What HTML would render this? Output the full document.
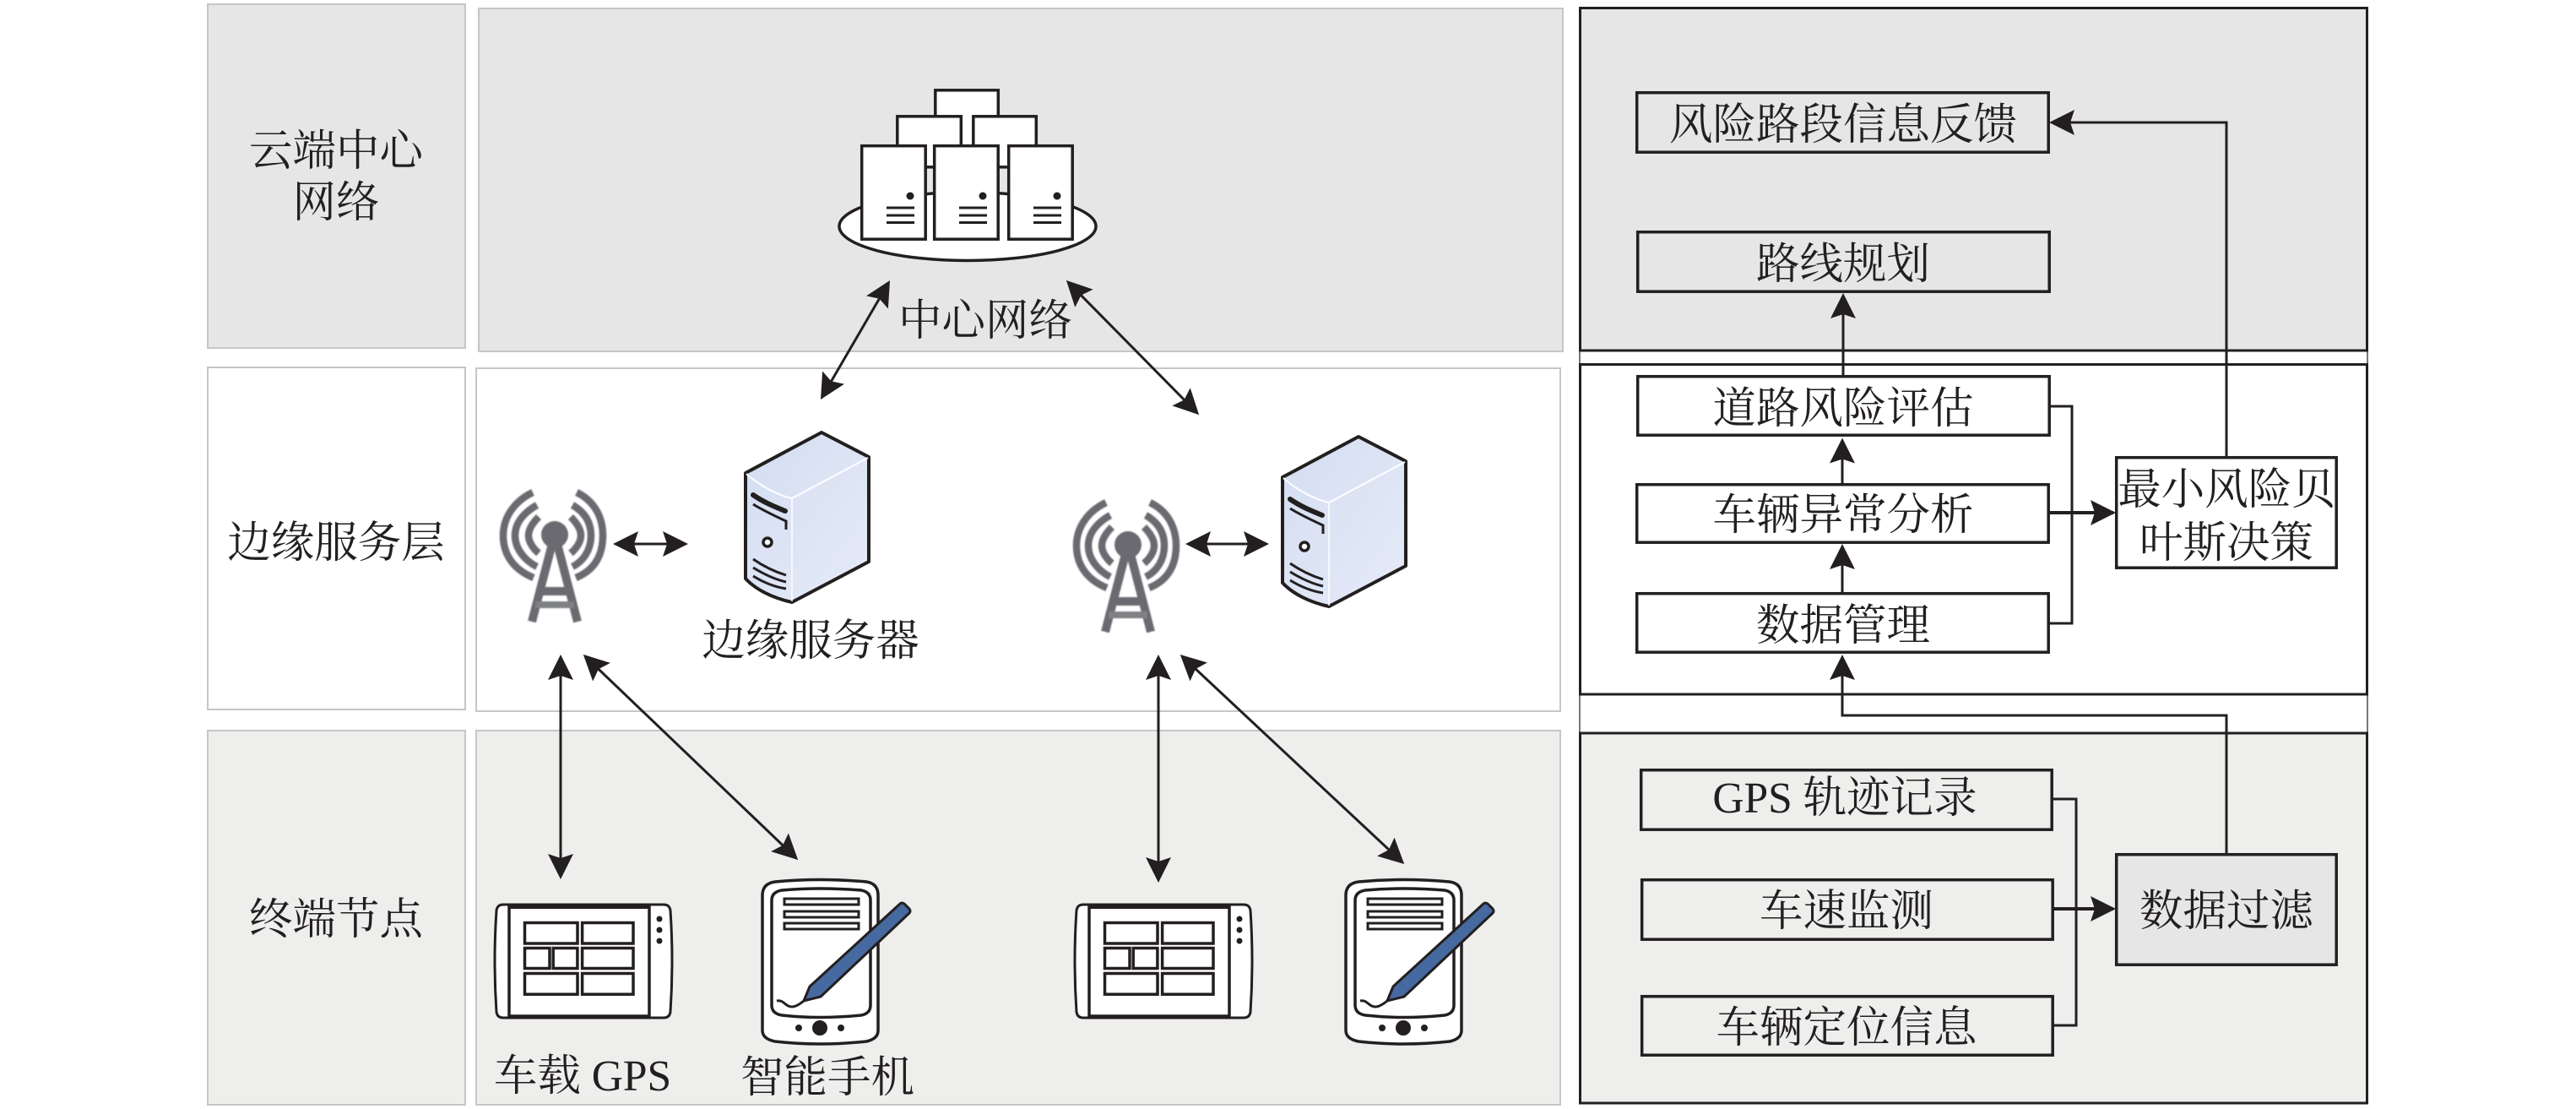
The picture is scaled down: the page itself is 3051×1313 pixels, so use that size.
<!DOCTYPE html>
<html lang="zh"><head><meta charset="utf-8"><title>Diagram</title>
<style>
html,body{margin:0;padding:0;background:#fff}
svg{display:block}
text{font-family:"Liberation Serif","Noto Serif CJK SC",serif;font-size:51.5px;fill:#231f20;text-anchor:middle}
.b{fill:#fff;stroke:#231f20;stroke-width:3.5}
.n{fill:none}
.l{fill:none;stroke:#231f20;stroke-width:3}
.ar{marker-end:url(#ah)}
.da{marker-start:url(#ah);marker-end:url(#ah)}
</style></head><body>
<svg xmlns="http://www.w3.org/2000/svg" width="3051" height="1313" viewBox="0 0 3051 1313">
<defs>
<filter id="soft" x="-5%" y="-5%" width="110%" height="110%"><feGaussianBlur stdDeviation="0.9"/></filter>
<marker id="ah" markerUnits="userSpaceOnUse" viewBox="0 0 30 30" markerWidth="30" markerHeight="30" refX="27" refY="15" orient="auto-start-reverse"><path d="M30 15L0 0L5 15L0 30Z" fill="#231f20"/></marker>
<linearGradient id="sg" x1="0" y1="0" x2="1" y2="1"><stop offset="0" stop-color="#d3ddf1"/><stop offset="1" stop-color="#e6ebf8"/></linearGradient>
<g id="tower" fill="none" stroke="#6a6b6f" filter="url(#soft)">
<g stroke-width="8.5">
<path d="M631 583C612 592 596 610 596 634C596 660 612 676 632 684"/>
<path d="M636 598C622 606 610 618 610 634C610 650 622 664 636 671"/>
<path d="M638 612C632 618 626 626 626 634C626 642 632 650 638 655"/>
<path d="M683 583C702 592 714 610 714 634C714 660 702 676 682 684"/>
<path d="M678 598C692 606 700 618 700 634C700 650 692 664 678 671"/>
<path d="M676 612C682 618 688 626 688 634C688 642 682 650 676 655"/>
</g>
<circle cx="657" cy="633" r="16" fill="#6a6b6f" stroke="none"/>
<path d="M655 640L630 736M659 640L684 736M641 700H674" stroke-width="10"/>
<path d="M634 716H680" stroke-width="8" stroke="#808185"/>
</g>
<g id="server">
<path d="M973 512L1029 541V665L938 713C915 708 895 698 883 685V560Z" fill="url(#sg)" stroke="#231f20" stroke-width="4" stroke-linejoin="round"/>
<path d="M884 561C900 575 920 586 938 590L1028 542" fill="none" stroke="#fff" stroke-width="2"/>
<path d="M938 590V712" fill="none" stroke="#fff" stroke-width="1.5"/>
<path d="M892 586C905 595 918 600 930 605" fill="none" stroke="#231f20" stroke-width="6" stroke-linecap="round"/>
<path d="M892 597C905 605 918 611 931 617V627" fill="none" stroke="#231f20" stroke-width="3"/>
<circle cx="909" cy="642" r="5" fill="#fff" stroke="#231f20" stroke-width="3.5"/>
<path d="M892 662C905 671 918 677 931 681M892 672C905 680 918 686 931 689M892 682C905 690 918 695 931 697" fill="none" stroke="#231f20" stroke-width="3"/>
</g>
<g id="tablet">
<path d="M596 1071H786Q793 1071 794 1078Q798 1138 794 1198Q793 1205 786 1205H596Q589 1205 588 1198Q584 1138 588 1078Q589 1071 596 1071Z" fill="#fff" stroke="#231f20" stroke-width="3"/>
<rect x="603" y="1073" width="166" height="130" fill="#fff" stroke="#231f20" stroke-width="3.500"/>
<rect x="602" y="1071" width="168" height="5" fill="#231f20"/>
<g fill="none" stroke="#231f20" stroke-width="3.5">
<rect x="621.500" y="1092.500" width="62.500" height="24.500"/><rect x="689.600" y="1092.500" width="60.400" height="24.500"/>
<rect x="621.500" y="1122.500" width="29.500" height="24"/><rect x="655.200" y="1122.500" width="28.700" height="24"/><rect x="689.600" y="1122.500" width="60.400" height="24"/>
<rect x="621.500" y="1152.500" width="62.500" height="24.700"/><rect x="689.600" y="1152.500" width="60.400" height="24.700"/>
</g>
<g fill="#231f20"><circle cx="781" cy="1088" r="3.5"/><circle cx="781" cy="1101" r="3.5"/><circle cx="781" cy="1114" r="3.5"/></g>
</g>
<g id="phone">
<path d="M918 1044Q971 1039 1026 1044Q1040 1046 1040 1060V1220Q1040 1230 1026 1233Q971 1239 918 1233Q903 1230 903 1220V1060Q903 1046 918 1044Z" fill="#fff" stroke="#231f20" stroke-width="3.5"/>
<path d="M926 1054Q971 1050 1020 1054Q1031 1056 1031 1066V1190Q1031 1200 1020 1202Q971 1207 926 1202Q914 1200 914 1190V1066Q914 1056 926 1054Z" fill="#fff" stroke="#231f20" stroke-width="3.5"/>
<g fill="#fff" stroke="#231f20" stroke-width="3"><rect x="929" y="1064" width="88" height="7"/><rect x="929" y="1079" width="88" height="7"/><rect x="929" y="1093" width="88" height="7"/></g>
<circle cx="971" cy="1217" r="9" fill="#231f20"/><circle cx="946" cy="1217" r="4" fill="#231f20"/><circle cx="996" cy="1217" r="4" fill="#231f20"/>
<path d="M959 1168L1066 1070Q1068 1068 1071 1070L1077 1076Q1079 1079 1077 1081L972 1180L952 1185Z" fill="#46699f" stroke="#231f20" stroke-width="3"/>
<path d="M920 1185C928 1183 930 1192 938 1192C943 1192 948 1188 952 1185" fill="none" stroke="#231f20" stroke-width="3"/>
</g>
<g id="srv3"><rect x="1020.700" y="172.700" width="75.500" height="110.500" fill="#fff" stroke="#231f20" stroke-width="3.5"/><circle cx="1078" cy="232" r="4.5" fill="#231f20"/><path d="M1050 246H1083M1050 255H1083M1050 263.500H1083" stroke="#231f20" stroke-width="3"/></g>
</defs>

<!-- left panels -->
<g stroke="#c6c6c6" stroke-width="2">
<rect x="246" y="5" width="305" height="407" fill="#e6e6e6"/>
<rect x="567" y="10" width="1284" height="406" fill="#e6e6e6"/>
<rect x="246" y="435" width="305" height="405" fill="#fff"/>
<rect x="564" y="436" width="1284" height="406" fill="#fff"/>
<rect x="246" y="865" width="305" height="443" fill="#eeeeed"/>
<rect x="564" y="865" width="1284" height="443" fill="#eeeeed"/>
</g>

<!-- cloud icon -->
<ellipse cx="1146" cy="268" rx="152" ry="40.500" fill="#fff" stroke="#231f20" stroke-width="3.5"/>
<g fill="#fff" stroke="#231f20" stroke-width="3.500">
<rect x="1107.800" y="106.800" width="74.500" height="80"/>
<rect x="1062.800" y="137.800" width="75.500" height="60"/>
<rect x="1152.800" y="137.800" width="74.500" height="60"/>
</g>
<use href="#srv3"/><use href="#srv3" x="86"/><use href="#srv3" x="174"/>

<use href="#tower"/><use href="#tower" x="679" y="12"/>
<use href="#server"/><use href="#server" x="636" y="5"/>
<use href="#tablet"/><use href="#tablet" x="687"/>
<use href="#phone"/><use href="#phone" x="691"/>

<!-- left connectors -->
<g class="l">
<line class="da" x1="1052.500" y1="334.600" x2="973.500" y2="470.400"/>
<line class="da" x1="1265" y1="334" x2="1418" y2="489"/>
<line class="da" x1="729" y1="644" x2="812" y2="644"/>
<line class="da" x1="1407" y1="644" x2="1500" y2="644"/>
<line class="da" x1="664" y1="778" x2="664" y2="1038"/>
<line class="da" x1="693" y1="777" x2="943" y2="1016"/>
<line class="da" x1="1372" y1="778" x2="1372" y2="1042"/>
<line class="da" x1="1400" y1="777" x2="1661" y2="1021"/>
</g>

<!-- left text -->
<text x="398" y="196">云端中心</text>
<text x="398" y="257">网络</text>
<text x="1167" y="397">中心网络</text>
<text x="398" y="660">边缘服务层</text>
<text x="960" y="776">边缘服务器</text>
<text x="398" y="1106">终端节点</text>
<text x="690" y="1291">车载 GPS</text>
<text x="980" y="1293">智能手机</text>

<!-- right panels -->
<path d="M1871 415V431M2804 415V431M1871 822V868M2804 822V868" stroke="#77777f" stroke-width="2" fill="none"/>
<g stroke="#231f20" stroke-width="3">
<rect x="1871.500" y="9.500" width="932" height="405.500" fill="#e6e6e6"/>
<rect x="1871.500" y="431.500" width="932" height="390.500" fill="#fff"/>
<rect x="1871.500" y="868" width="932" height="438" fill="#eeeeed"/>
</g>

<!-- right connectors -->
<g class="l">
<path class="ar" d="M2637 541V145H2430"/>
<path class="ar" d="M2183 445V350"/>
<path class="ar" d="M2182 573V521.500"/>
<path class="ar" d="M2182 702V647"/>
<path class="ar" d="M2637 1011V847H2182V778"/>
<path d="M2427 481H2454V738H2427"/>
<path d="M2431 946H2459V1214H2432"/>
<path class="ar" d="M2427 607H2503" stroke-width="4"/>
<path class="ar" d="M2432 1076H2503" stroke-width="4"/>
</g>

<!-- right boxes -->
<rect class="b n" x="1938.700" y="109.700" width="487.500" height="70.500"/>
<rect class="b n" x="1939.700" y="274.700" width="487.500" height="70.500"/>
<rect class="b" x="1939.700" y="445.700" width="487.500" height="69.500"/>
<rect class="b" x="1938.700" y="573.700" width="487.500" height="68.500"/>
<rect class="b" x="1938.700" y="702.700" width="487.500" height="69.500"/>
<rect class="b" x="2506.700" y="541.700" width="260.500" height="130.500"/>
<rect class="b n" x="1943.700" y="911.700" width="486.500" height="70.500"/>
<rect class="b n" x="1944.700" y="1041.700" width="486.500" height="70.500"/>
<rect class="b n" x="1944.700" y="1179.700" width="486.500" height="69.500"/>
<rect class="b" x="2506.700" y="1011.700" width="260.500" height="130.500" style="fill:#e6e6e6"/>

<!-- right text -->
<text x="2183" y="165">风险路段信息反馈</text>
<text x="2183" y="330">路线规划</text>
<text x="2183" y="501">道路风险评估</text>
<text x="2183" y="627">车辆异常分析</text>
<text x="2183" y="758">数据管理</text>
<text x="2637" y="597">最小风险贝</text>
<text x="2637" y="660">叶斯决策</text>
<text x="2185" y="962">GPS 轨迹记录</text>
<text x="2187" y="1096">车速监测</text>
<text x="2187" y="1234">车辆定位信息</text>
<text x="2637" y="1096">数据过滤</text>
</svg>
</body></html>
